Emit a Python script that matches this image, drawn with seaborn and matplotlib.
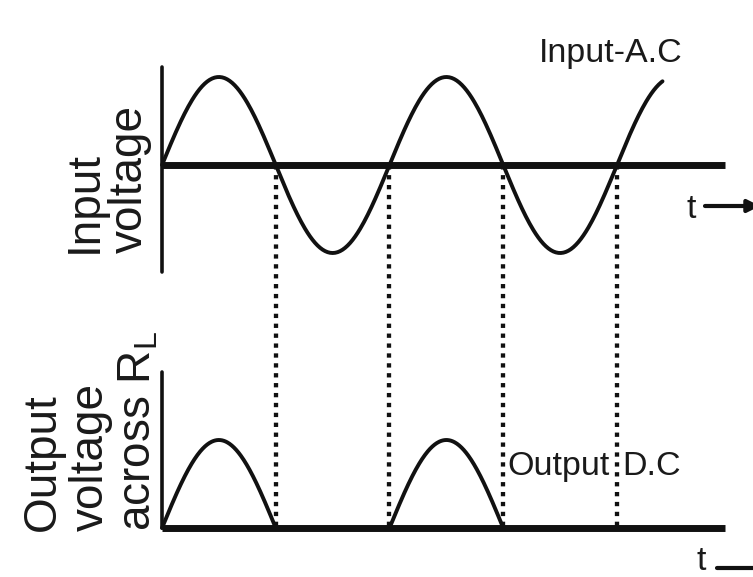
import numpy as np
import pandas as pd
import matplotlib
matplotlib.use("Agg")
import matplotlib.pyplot as plt
from matplotlib import font_manager
import seaborn as sns

# ---- data (schematic half-wave rectifier) ----
amplitude = 1.0                      # peak voltage (relative)
half_periods = [0, 1, 2, 3, 4]       # zero crossings of the input, in half periods
input_end = 4.4                      # input trace ends shortly before the 3rd peak
conducting = [(0, 1), (2, 3)]        # half cycles passed by the diode
dotted_at = [1, 2, 3, 4]             # guide lines between the panels
input_label = "Input-A.C"
output_label_left = "Output"
output_label_right = "D.C"
input_axis_label = ["Input", "voltage"]
output_axis_label = ["Output", "voltage", "across R$_\\mathregular{L}$"]
time_label = "t"

# ---- layout ----
W, H = 753, 577
x0_px, dx_px = 162, 113.75          # pixel of t=0, pixels per half period
y0_px, dy_px = 528, 88              # pixel of output baseline, pixels per unit
input_offset = (528 - 165) / dy_px  # vertical offset of input panel

sns.set_theme(style="white")
names = {f.name for f in font_manager.fontManager.ttflist}
narrow_ok = "Liberation Sans Narrow" in names
narrow = "Liberation Sans Narrow" if narrow_ok else "Liberation Sans"
plt.rcParams["font.family"] = ["Liberation Sans", "DejaVu Sans"]

fig = plt.figure(figsize=(W / 100, H / 100), dpi=100)
ax = fig.add_axes([0, 0, 1, 1])
ax.set_xlim(-x0_px / dx_px, (W - x0_px) / dx_px)
ax.set_ylim(-(H - y0_px) / dy_px, y0_px / dy_px)
ax.axis("off")

ink = "#111111"
txt_c = "#1a1a1a"
lw_curve = 2.8
lw_base = 5.0
lw_axis = 2.6

# input sine
t_in = np.linspace(half_periods[0], input_end, 400)
df_in = pd.DataFrame({"t": t_in, "v": input_offset + amplitude * np.sin(np.pi * t_in)})
sns.lineplot(data=df_in, x="t", y="v", ax=ax, color=ink, lw=lw_curve,
             sort=False, estimator=None)

# output humps
for a, b in conducting:
    t = np.linspace(a, b, 200)
    df = pd.DataFrame({"t": t, "v": amplitude * np.sin(np.pi * t)})
    sns.lineplot(data=df, x="t", y="v", ax=ax, color=ink, lw=lw_curve,
                 sort=False, estimator=None)

# baselines and vertical axes
x_end = (725 - x0_px) / dx_px
ax.plot([0, x_end], [input_offset, input_offset], color=ink, lw=lw_base, solid_capstyle="butt")
ax.plot([0, x_end], [0, 0], color=ink, lw=lw_base, solid_capstyle="butt")
ax.plot([0, 0], [(y0_px - 272) / dy_px, (y0_px - 67) / dy_px], color=ink, lw=lw_axis)
ax.plot([0, 0], [0, (y0_px - 372) / dy_px], color=ink, lw=lw_axis)

# dotted guide lines
for t in dotted_at:
    ax.plot([t, t], [0.02, input_offset], color=ink, lw=3.1,
            linestyle=(0, (1.0, 1.3)), dash_capstyle="butt")


def fx(px):
    return px / W


def fy(py):
    return 1 - py / H


label_fs = 33
# rotated axis labels
for txt, bx in zip(input_axis_label, [97, 142]):
    fig.text(fx(bx), fy(253), txt, rotation=90, rotation_mode="anchor",
             ha="left", va="baseline", fontsize=label_fs, color=txt_c)
for txt, bx in zip(output_axis_label, [55, 103, 150]):
    fig.text(fx(bx), fy(531), txt, rotation=90, rotation_mode="anchor",
             ha="left", va="baseline", fontsize=label_fs, color=txt_c)

# condensed annotations
cfs = 31 if narrow_ok else 24.5
fam = [narrow, "DejaVu Sans"]
fig.text(fx(611), fy(62), input_label, ha="center", va="baseline",
         fontsize=cfs, family=fam, color=txt_c)
fig.text(fx(610), fy(475), output_label_left, ha="right", va="baseline",
         fontsize=cfs, family=fam, color=txt_c)
fig.text(fx(622), fy(475), output_label_right, ha="left", va="baseline",
         fontsize=cfs, family=fam, color=txt_c)

# time labels with arrows
fig.text(fx(691), fy(218), time_label, ha="center", va="baseline",
         fontsize=cfs, family=fam, color=txt_c)
fig.text(fx(701), fy(577), time_label, ha="center", va="bottom",
         fontsize=cfs, family=fam, color=txt_c)
for ay, ax0 in [(206, 705), (568, 717)]:
    ax.annotate("", xy=(fx(ax0 + 55), fy(ay)), xytext=(fx(ax0), fy(ay)),
                xycoords="figure fraction", textcoords="figure fraction",
                annotation_clip=False,
                arrowprops=dict(arrowstyle="-|>", lw=3.0, color=ink,
                                mutation_scale=18, shrinkA=0, shrinkB=0))

fig.savefig("out.png", dpi=100, facecolor="white")
